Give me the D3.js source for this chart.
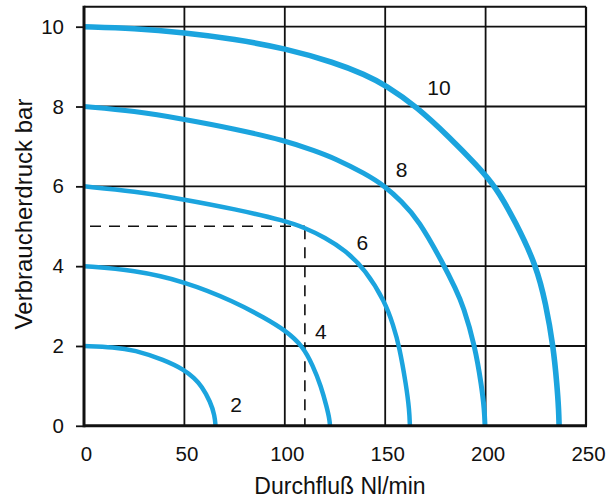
<!DOCTYPE html>
<html>
<head>
<meta charset="utf-8">
<script src="https://cdn.jsdelivr.net/npm/d3@7"></script>
<style>
  html, body { margin: 0; padding: 0; background: #fff; }
  svg { display: block; }
  text { font-family: "Liberation Sans", Arial, Helvetica, sans-serif; fill: #111; }
</style>
</head>
<body>
<svg id="chart" width="612" height="502"></svg>
<script>
// ---- data ----
const xTicks = [0, 50, 100, 150, 200, 250];
const yTicks = [0, 2, 4, 6, 8, 10];
const supplyPressures = [10, 8, 6, 4, 2];   // curve labels (bar)

const flow10     = [0, 25, 50, 75, 100, 125, 140, 150, 165.7, 183, 195, 205, 215, 225.4, 230, 233.7, 235.6, 236.4, 236.6];
const pressure10 = [10, 9.96, 9.85, 9.69, 9.46, 9.10, 8.80, 8.54, 8.0, 7.18, 6.56, 6.0, 5.1, 4.0, 3.05, 2.0, 1.0, 0.4, 0];

const flow8      = [0, 25, 50, 75, 100, 115, 125, 140, 150, 158, 166.5, 179, 185, 188.9, 194.7, 198, 199.4, 199.7];
const pressure8  = [8, 7.89, 7.68, 7.44, 7.15, 6.89, 6.70, 6.32, 6.0, 5.63, 5.17, 4.05, 3.44, 3.0, 2.0, 1.0, 0.4, 0];

const flow6      = [0, 25, 50, 75, 100, 110, 120, 130, 140, 150, 154, 157, 160.5, 162.0, 162.3];
const pressure6  = [6, 5.88, 5.67, 5.43, 5.14, 4.96, 4.72, 4.40, 3.92, 3.1, 2.52, 2.0, 1.0, 0.4, 0];

const flow4      = [0, 25, 50, 75, 90, 100, 109, 114, 118, 121, 122.3, 122.5];
const pressure4  = [4, 3.90, 3.62, 3.11, 2.70, 2.40, 2.0, 1.5, 1.0, 0.45, 0.15, 0];

const flow2      = [0, 15, 25, 40, 50, 55, 58.5, 63, 65.1, 65.5];
const pressure2  = [2, 1.97, 1.90, 1.65, 1.40, 1.19, 1.0, 0.6, 0.25, 0];

// example reading (dashed guide): 110 Nl/min at 5 bar
const exampleFlow = 110;
const examplePressure = 5;

const xTitle = "Durchfluß Nl/min";
const yTitle = "Verbraucherdruck bar";

// ---- layout ----
const svg = d3.select("#chart");
const x = d3.scaleLinear().domain([0, 250]).range([84, 586]);
const y = d3.scaleLinear().domain([0, 10]).range([425.8, 26.7]);
const yTop = 10.5;
const blue = "#1ba4de";

const curves = [
  { label: supplyPressures[0], q: flow10, p: pressure10, w: 5.6, lab: [176.8, 8.29] },
  { label: supplyPressures[1], q: flow8,  p: pressure8,  w: 5.0, lab: [158.2, 6.24] },
  { label: supplyPressures[2], q: flow6,  p: pressure6,  w: 4.5, lab: [138.6, 4.41] },
  { label: supplyPressures[3], q: flow4,  p: pressure4,  w: 4.5, lab: [118.0, 2.18] },
  { label: supplyPressures[4], q: flow2,  p: pressure2,  w: 4.5, lab: [75.7, 0.35] }
];

// grid
const grid = svg.append("g").attr("stroke", "#111").attr("stroke-width", 1.8);
grid.selectAll("line.v").data(xTicks.filter(d => d > 0 && d < 250)).join("line")
  .attr("x1", d => x(d)).attr("x2", d => x(d))
  .attr("y1", y(0)).attr("y2", y(yTop));
grid.selectAll("line.h").data(yTicks.filter(d => d > 0)).join("line")
  .attr("y1", d => y(d)).attr("y2", d => y(d))
  .attr("x1", x(0)).attr("x2", x(250));

// frame: top & right thinner, left & bottom heavier
svg.append("line").attr("x1", x(0)).attr("x2", x(250)).attr("y1", y(yTop)).attr("y2", y(yTop))
  .attr("stroke", "#111").attr("stroke-width", 2);
svg.append("line").attr("x1", x(250)).attr("x2", x(250)).attr("y1", y(yTop)).attr("y2", y(0))
  .attr("stroke", "#111").attr("stroke-width", 2.2);

// dashed guide
svg.append("path")
  .attr("d", d3.line().x(d => x(d[0])).y(d => y(d[1]))([[0, examplePressure], [exampleFlow, examplePressure]]))
  .attr("fill", "none").attr("stroke", "#111").attr("stroke-width", 1.6)
  .attr("stroke-dasharray", "11,8").attr("stroke-dashoffset", -6);
svg.append("path")
  .attr("d", d3.line().x(d => x(d[0])).y(d => y(d[1]))([[exampleFlow, examplePressure], [exampleFlow, 0]]))
  .attr("fill", "none").attr("stroke", "#111").attr("stroke-width", 1.6)
  .attr("stroke-dasharray", "11,8").attr("stroke-dashoffset", -2);

// y axis (ticks + labels)
const yAxis = d3.axisLeft(y).tickValues(yTicks).tickSize(8).tickPadding(12).tickFormat(d3.format("d"));
const gy = svg.append("g").attr("transform", `translate(${x(0)},0)`).call(yAxis);
gy.select(".domain").remove();
gy.selectAll(".tick line").attr("stroke", "#111").attr("stroke-width", 1.8);
gy.selectAll(".tick text").attr("font-size", 20.5).attr("fill", "#111")
  .style("font-family", '"Liberation Sans", Arial, sans-serif');

// x axis labels
const xAxis = d3.axisBottom(x).tickValues(xTicks).tickSize(0).tickPadding(21).tickFormat(d3.format("d"));
const gx = svg.append("g").attr("transform", `translate(0,${y(0)})`).call(xAxis);
gx.select(".domain").remove();
gx.selectAll(".tick text").attr("font-size", 20.5).attr("fill", "#111").attr("dx", 2)
  .style("font-family", '"Liberation Sans", Arial, sans-serif');

// curves
const line = d3.line().x(d => x(d[0])).y(d => y(d[1])).curve(d3.curveBasis);
svg.append("g").selectAll("path").data(curves).join("path")
  .attr("d", c => line(c.q.map((q, i) => [q, c.p[i]])))
  .attr("fill", "none").attr("stroke", blue).attr("stroke-width", c => c.w)
  .attr("stroke-linecap", "butt");

// curve labels
svg.append("g").selectAll("text").data(curves).join("text")
  .attr("x", c => x(c.lab[0])).attr("y", c => y(c.lab[1]))
  .attr("text-anchor", "middle").attr("font-size", 21)
  .text(c => c.label);

// left & bottom axis lines (heavy)
svg.append("line").attr("x1", x(0)).attr("x2", x(0)).attr("y1", y(yTop) - 1).attr("y2", y(0) + 1.5)
  .attr("stroke", "#111").attr("stroke-width", 3);
svg.append("line").attr("x1", x(0)).attr("x2", x(250) + 1).attr("y1", y(0)).attr("y2", y(0))
  .attr("stroke", "#111").attr("stroke-width", 3);

// axis titles
svg.append("text").attr("x", 340).attr("y", 494).attr("text-anchor", "middle")
  .attr("font-size", 23).text(xTitle);
svg.append("text").attr("transform", "translate(32,214) rotate(-90)").attr("text-anchor", "middle")
  .attr("font-size", 24).text(yTitle);
</script>
</body>
</html>
